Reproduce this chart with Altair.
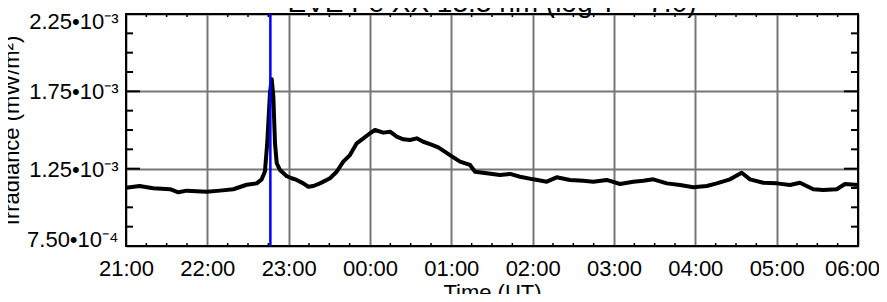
import json
import altair as alt
import pandas as pd

# ---------------- data ----------------
TITLE = "EVE Fe XX 13.3 nm (log T = 7.0)"
X_TITLE = "Time (UT)"
Y_TITLE = "Irradiance (mW/m²)"

X_TICK_LABELS = ["21:00", "22:00", "23:00", "00:00", "01:00",
                 "02:00", "03:00", "04:00", "05:00", "06:00"]
Y_TICK_VALUES = [0.00075, 0.00125, 0.00175, 0.00225]
Y_TICK_LABELS = ["7.50•10⁻⁴", "1.25•10⁻³", "1.75•10⁻³", "2.25•10⁻³"]
Y_MINOR = [0.000875, 0.001, 0.001125, 0.001375, 0.0015, 0.001625,
           0.001875, 0.002, 0.002125]

TIMES = ["21:00:00", "21:10:00", "21:20:00", "21:32:30", "21:38:36", "21:44:48",
         "21:59:30", "22:09:18", "22:19:12", "22:29:00", "22:36:24", "22:40:06",
         "22:42:30", "22:44:12", "22:46:12", "22:47:30", "22:48:42", "22:49:54",
         "22:51:12", "22:53:36", "22:58:36", "23:02:12", "23:05:54", "23:10:48",
         "23:14:30", "23:18:12", "23:23:06", "23:30:30", "23:35:24", "23:40:18",
         "23:45:12", "23:50:12", "23:55:06", "00:00:00", "00:03:42", "00:09:48",
         "00:14:48", "00:19:42", "00:24:36", "00:29:30", "00:34:30", "00:39:18",
         "00:44:18", "00:50:24", "00:59:00", "01:06:24", "01:13:48", "01:17:30",
         "01:26:06", "01:35:54", "01:43:18", "01:50:42", "02:00:30", "02:10:24",
         "02:17:42", "02:27:30", "02:37:24", "02:44:42", "02:54:36", "03:04:24",
         "03:14:12", "03:21:36", "03:29:00", "03:38:54", "03:48:42", "03:58:30",
         "04:08:24", "04:15:48", "04:25:36", "04:34:12", "04:40:18", "04:50:06",
         "05:00:00", "05:09:48", "05:17:12", "05:27:00", "05:34:24", "05:44:18",
         "05:50:24", "06:00:00"]
IRRADIANCE = [1.127e-3, 1.138e-3, 1.123e-3, 1.117e-3, 1.097e-3, 1.108e-3,
              1.101e-3, 1.108e-3, 1.117e-3, 1.146e-3, 1.155e-3, 1.181e-3,
              1.232e-3, 1.416e-3, 1.739e-3, 1.828e-3, 1.715e-3, 1.416e-3,
              1.285e-3, 1.241e-3, 1.201e-3, 1.188e-3, 1.177e-3, 1.155e-3,
              1.133e-3, 1.138e-3, 1.155e-3, 1.188e-3, 1.230e-3, 1.295e-3,
              1.338e-3, 1.414e-3, 1.446e-3, 1.479e-3, 1.500e-3, 1.483e-3,
              1.489e-3, 1.457e-3, 1.440e-3, 1.435e-3, 1.446e-3, 1.424e-3,
              1.409e-3, 1.388e-3, 1.338e-3, 1.295e-3, 1.274e-3, 1.230e-3,
              1.220e-3, 1.209e-3, 1.216e-3, 1.198e-3, 1.181e-3, 1.166e-3,
              1.194e-3, 1.177e-3, 1.172e-3, 1.166e-3, 1.177e-3, 1.151e-3,
              1.166e-3, 1.172e-3, 1.181e-3, 1.155e-3, 1.144e-3, 1.130e-3,
              1.138e-3, 1.155e-3, 1.181e-3, 1.224e-3, 1.181e-3, 1.159e-3,
              1.155e-3, 1.144e-3, 1.159e-3, 1.117e-3, 1.112e-3, 1.117e-3,
              1.151e-3, 1.144e-3]
MARKER_TIME = "22:46:30"

START_HOUR = 21
SPAN_MIN = 540


def minutes_since_start(clock):
    h, m, s = (int(p) for p in clock.split(":"))
    mins = h * 60 + m + s / 60.0 - START_HOUR * 60
    if mins < 0:
        mins += 1440
    return mins


series = pd.DataFrame({"t": [minutes_since_start(c) for c in TIMES], "v": IRRADIANCE})
marker = pd.DataFrame({"t": [minutes_since_start(MARKER_TIME)]})
x_major = list(range(0, SPAN_MIN + 1, 60))
x_minor = pd.DataFrame({"t": [q for q in range(0, SPAN_MIN + 1, 15) if q % 60]})
y_major = pd.DataFrame({"v": Y_TICK_VALUES})
y_minor = pd.DataFrame({"v": Y_MINOR})

W, H = 732, 232
FONT = "Liberation Sans"
XS = alt.Scale(domain=[0, SPAN_MIN], nice=False, zero=False)
YS = alt.Scale(domain=[Y_TICK_VALUES[0], Y_TICK_VALUES[-1]], nice=False, zero=False)

x_label_expr = json.dumps(X_TICK_LABELS, ensure_ascii=False) + "[round(datum.value/60)]"
y_label_expr = (json.dumps(Y_TICK_LABELS, ensure_ascii=False)
                + "[round((datum.value-0.00075)/0.0005)]")

x_axis = alt.Axis(values=x_major, labelExpr=x_label_expr, labelFont=FONT,
                  labelFontSize=22, labelColor="black", labelBaseline="alphabetic",
                  labelAlign="center", labelPadding=29, labelOverlap=False,
                  labelOffset={"condition": {"test": f"datum.value == {SPAN_MIN}",
                                             "value": -6}, "value": 0},
                  ticks=False, tickSize=0, domain=False, grid=True,
                  gridColor="#767676", gridWidth=2, title=X_TITLE, titleFont=FONT,
                  titleFontSize=22, titleFontWeight="normal", titleColor="black",
                  titleX=366, titleY=53, titleBaseline="alphabetic", titleAlign="center")
y_axis = alt.Axis(values=Y_TICK_VALUES, labelExpr=y_label_expr, labelFont=FONT,
                  labelFontSize=22, labelColor="black", labelAlign="right",
                  labelBaseline="alphabetic", labelPadding=8, labelFlush=False,
                  labelOffset={"condition": [
                      {"test": f"datum.value >= {Y_TICK_VALUES[-1] - 1e-5}", "value": 14},
                      {"test": f"datum.value <= {Y_TICK_VALUES[0] + 1e-5}", "value": 0.5}],
                      "value": 7.5},
                  labelOverlap=False, ticks=False, tickSize=0,
                  domain=False, grid=True, gridColor="#767676", gridWidth=2,
                  title=Y_TITLE, titleFont=FONT, titleFontSize=22,
                  titleFontWeight="normal", titleColor="black", titleAngle=270,
                  titleX=-108, titleY=116, titleBaseline="alphabetic", titleAlign="center")

line = alt.Chart(series).mark_line(color="black", strokeWidth=4, clip=True,
                                   strokeJoin="round").encode(
    x=alt.X("t:Q", scale=XS, axis=x_axis),
    y=alt.Y("v:Q", scale=YS, axis=y_axis),
)


def yticks(df, x0, x1):
    return alt.Chart(df).mark_rule(color="black", strokeWidth=2).encode(
        y=alt.Y("v:Q", scale=YS, axis=y_axis), x=alt.value(x0), x2=alt.value(x1))


def xticks(y0, y1):
    return alt.Chart(x_minor).mark_rule(color="black", strokeWidth=1.5).encode(
        x=alt.X("t:Q", scale=XS, axis=x_axis), y=alt.value(y0), y2=alt.value(y1))


frame = alt.Chart(pd.DataFrame({"k": [0]})).mark_rect(
    fillOpacity=0, stroke="black", strokeWidth=2).encode(
    x=alt.value(0), x2=alt.value(W), y=alt.value(0), y2=alt.value(H))

blue = alt.Chart(marker).mark_rule(color="#0000ff", strokeWidth=2.5).encode(
    x=alt.X("t:Q", scale=XS, axis=x_axis))

title = alt.Chart(pd.DataFrame({"s": [TITLE]})).mark_text(
    font=FONT, fontSize=28, color="black", align="center", baseline="alphabetic").encode(
    text="s:N", x=alt.value(W / 2), y=alt.value(-2))

chart = alt.layer(
    line,
    yticks(y_major, 0, 14), yticks(y_major, W - 14, W),
    yticks(y_minor, 0, 7), yticks(y_minor, W - 7, W),
    xticks(H - 3, H), xticks(0, 3),
    frame, blue, title,
).properties(
    width=W, height=H,
    autosize=alt.AutoSizeParams(type="none"),
    padding={"left": 118, "top": 6, "right": 21, "bottom": 48},
).configure_view(strokeWidth=0).configure(background="white")

chart.save("out.html", embed_options={"renderer": "svg", "actions": False})
